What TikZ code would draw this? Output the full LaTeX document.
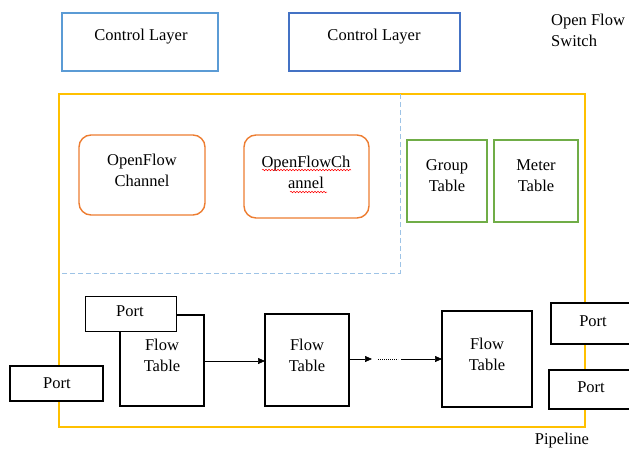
\documentclass[tikz,border=0pt]{standalone}
\usepackage{fontspec}
\setmainfont{Liberation Serif}
\usetikzlibrary{arrows.meta,decorations.pathmorphing}
\definecolor{ctlA}{HTML}{5B9BD5}
\definecolor{ctlB}{HTML}{4472C4}
\definecolor{swY}{HTML}{FFC000}
\definecolor{chO}{HTML}{ED7D31}
\definecolor{tbG}{HTML}{70AD47}
\definecolor{dashB}{HTML}{9DC3E6}
\tikzset{
  txt/.style={font=\fontsize{16.5}{21}\selectfont, align=center, inner sep=0pt},
  box/.style={draw=black, line width=1.3pt, fill=white},
  portbox/.style={draw=black, line width=1.1pt, fill=white},
  flowarrow/.style={-{Triangle[length=7pt,width=6pt]}, line width=0.6pt},
  squiggle/.style={red, line width=0.5pt, decorate, decoration={snake, amplitude=0.8pt, segment length=3pt}},
}
\begin{document}
\begin{tikzpicture}[x=1pt,y=-1pt]
\useasboundingbox (0,0) rectangle (629,450);

% controller boxes
\draw[ctlA, line width=1.2pt] (62,13) rectangle (218,71);
\node[txt] (cl1) at (141,37) {Control Layer};
\draw[ctlB, line width=1.2pt] (289,13) rectangle (460,71);
\node[txt] (cl2) at (374,37) {Control Layer};
\node[txt, align=left, anchor=west] (sw) at (551,30) {Open Flow\\Switch};

% switch outline
\draw[swY, line width=1.5pt] (59,94) rectangle (585,427);
\draw[dashB, line width=0.9pt, dash pattern=on 5pt off 3pt] (400,94) -- (400,273) -- (59,273);

% channels
\draw[chO, line width=1.4pt, rounded corners=12pt] (79,135) rectangle (205,215);
\node[txt] (ch1) at (142,170) {OpenFlow\\Channel};
\draw[chO, line width=1.4pt, rounded corners=12pt] (244,135) rectangle (369,218);
\node[txt] (ch2) at (306,172) {OpenFlowCh\\annel};
\draw[squiggle] (262,170) -- (351,170);
\draw[squiggle] (290,192) -- (327,192);

% group and meter tables
\draw[tbG, line width=1.3pt] (407,140) rectangle (487,222);
\node[txt] (gt) at (447,176) {Group\\Table};
\draw[tbG, line width=1.3pt] (494,140) rectangle (578,222);
\node[txt] (mt) at (536,176) {Meter\\Table};

% pipeline of flow tables
\draw[box] (120,315) rectangle (204,406);
\node[txt] (ft1) at (162,355) {Flow\\Table};
\draw[box] (265,314) rectangle (349,406);
\node[txt] (ft2) at (307,355) {Flow\\Table};
\draw[box] (442,311) rectangle (532,407);
\node[txt] (ft3) at (487,354) {Flow\\Table};

\coordinate (a1) at (204,361);
\coordinate (b1) at (265,361);
\draw[flowarrow] (a1) -- (b1);
\coordinate (a2) at (349,359);
\coordinate (a2e) at (372,359);
\draw[flowarrow] (a2) -- (a2e);
\coordinate (d1) at (378,359);
\coordinate (d2) at (398,359);
\draw[line width=0.5pt, dash pattern=on 1.2pt off 0.8pt] (d1) -- (d2);
\coordinate (a3) at (401,359);
\coordinate (b3) at (442,359);
\draw[flowarrow] (a3) -- (b3);

% ports
\draw[portbox, line width=0.9pt] (85,296) rectangle (176,331);
\node[txt] (p1) at (130,311) {Port};
\draw[portbox] (10,366) rectangle (103,401);
\node[txt] (p2) at (57,383) {Port};
\draw[portbox] (551,303) rectangle (632,344);
\node[txt] (p3) at (593,321) {Port};
\draw[portbox] (549,370) rectangle (632,409);
\node[txt] (p4) at (591,387) {Port};

\node[txt] (pl) at (562,441) {Pipeline};
\end{tikzpicture}
\end{document}
